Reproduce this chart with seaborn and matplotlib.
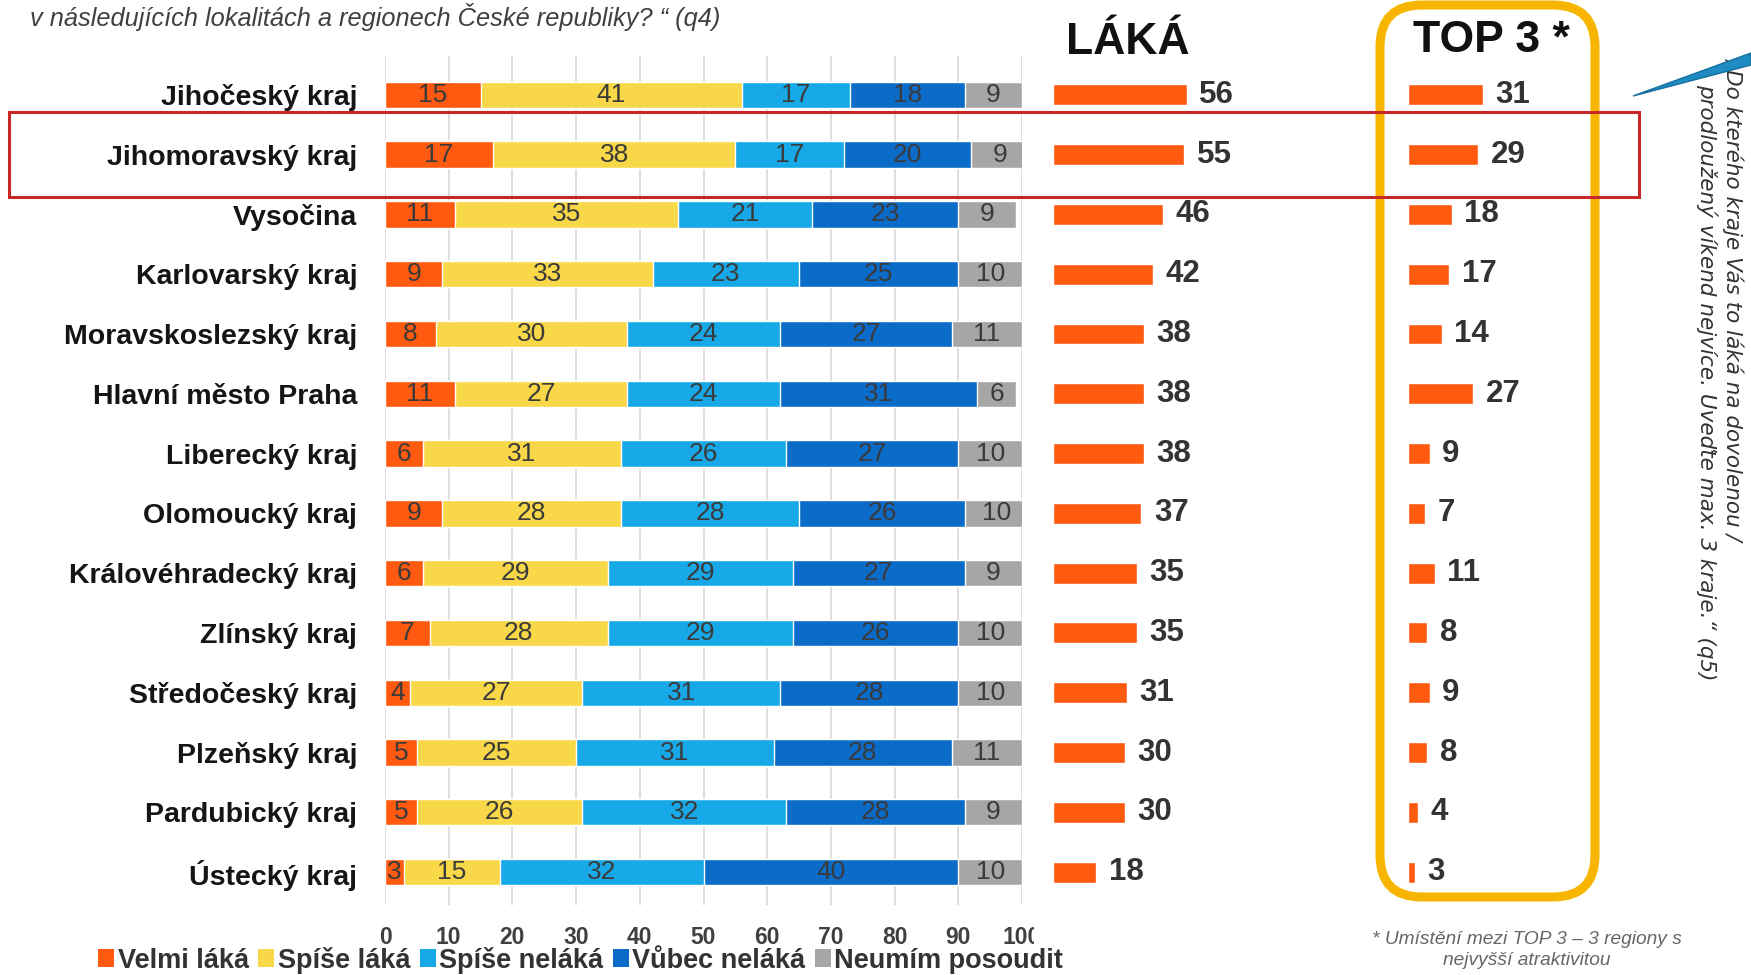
import numpy as np
import seaborn as sns
from matplotlib import pyplot as plt
from matplotlib.patches import Patch, FancyBboxPatch, Rectangle, Polygon

## Data
regions = ["Jihočeský kraj", "Jihomoravský kraj", "Vysočina", "Karlovarský kraj",
           "Moravskoslezský kraj", "Hlavní město Praha", "Liberecký kraj",
           "Olomoucký kraj", "Královéhradecký kraj", "Zlínský kraj",
           "Středočeský kraj", "Plzeňský kraj", "Pardubický kraj", "Ústecký kraj"]
velmi_laka = [15, 17, 11, 9, 8, 11, 6, 9, 6, 7, 4, 5, 5, 3]
spise_laka = [41, 38, 35, 33, 30, 27, 31, 28, 29, 28, 27, 25, 26, 15]
spise_nelaka = [17, 17, 21, 23, 24, 24, 26, 28, 29, 29, 31, 31, 32, 32]
vubec_nelaka = [18, 20, 23, 25, 27, 31, 27, 26, 27, 26, 28, 28, 28, 40]
neumim = [9, 9, 9, 10, 11, 6, 10, 10, 9, 10, 10, 11, 9, 10]
laka = [56, 55, 46, 42, 38, 38, 38, 37, 35, 35, 31, 30, 30, 18]
top3 = [31, 29, 18, 17, 14, 27, 9, 7, 11, 8, 9, 8, 4, 3]

legend_labels = ["Velmi láká", "Spíše láká", "Spíše neláká", "Vůbec neláká", "Neumím posoudit"]
x_ticks = [0, 10, 20, 30, 40, 50, 60, 70, 80, 90, 100]

COLOURS = ["#FF5A0F", "#F8D848", "#17A8E8", "#0B6BC8", "#A6A6A6"]
ORANGE = "#FF5A0F"

sns.set_theme(style="white")
plt.rcParams["font.family"] = ["Liberation Sans", "DejaVu Sans"]

W, H = 1751, 975
fig = plt.figure(figsize=(W / 100, H / 100), dpi=100)

def px_axes(x0, x1, y_top, y_bot):
    return fig.add_axes([x0 / W, 1 - y_bot / H, (x1 - x0) / W, (y_bot - y_top) / H])

ax = px_axes(385, 1022, 56, 905)
ax2 = px_axes(1053, 1053 + 70 * 2.39, 56, 905)
ax3 = px_axes(1408, 1408 + 70 * 2.42, 56, 905)

## Stacked bars (cumulative, drawn from the largest sum down)
segments = [velmi_laka, spise_laka, spise_nelaka, vubec_nelaka, neumim]
seg = np.array(segments)
cum = seg.cumsum(axis=0)
for k in range(len(segments) - 1, -1, -1):
    sns.barplot(x=cum[k], y=regions, color=COLOURS[k], orient="h", width=0.44,
                saturation=1, errorbar=None, ax=ax, zorder=2)

# value labels in the middle of each segment
for k in range(len(segments)):
    starts = cum[k] - seg[k]
    for i in range(len(regions)):
        ax.text(starts[i] + seg[k][i] / 2, i, str(seg[k][i]), ha="center", va="center",
                fontsize=19, color="#3a3a3a", zorder=3)

ax.set_xlim(0, 100)
ax.set_ylim(13.55, -0.65)
ax.set_xticks(x_ticks)
ax.set_xticklabels([str(t) for t in x_ticks], fontsize=16.5, fontweight="bold", color="#404040")
ax.grid(axis="x", color="#d4d4d4", lw=1.1, zorder=0)
ax.set_axisbelow(True)
ax.tick_params(axis="x", length=0, pad=15)
ax.tick_params(axis="y", length=0, pad=20)
for lbl in ax.get_yticklabels():
    lbl.set_fontsize(20.5)
    lbl.set_fontweight("bold")
    lbl.set_color("#151515")
for s in ax.spines.values():
    s.set_visible(False)
ax.set_xlabel("")
ax.set_ylabel("")

## LÁKÁ and TOP 3 panels
for a, vals in [(ax2, laka), (ax3, top3)]:
    sns.barplot(x=vals, y=regions, color=ORANGE, orient="h", width=0.35,
                saturation=1, errorbar=None, ax=a)
    a.bar_label(a.containers[0], padding=9, fontsize=22.5, fontweight="bold", color="#333333")
    a.set_xlim(0, 70)
    a.set_ylim(13.55, -0.65)
    a.set_xticks([])
    a.set_yticks([])
    a.set_xlabel("")
    a.set_ylabel("")
    a.patch.set_alpha(0)
    for s in a.spines.values():
        s.set_visible(False)

fig.text(1128 / W, 1 - 42 / H, "LÁKÁ", ha="center", va="center", fontsize=32,
         fontweight="bold", color="#111111")
fig.text(1413 / W, 1 - 40 / H, "TOP 3 *", ha="left", va="center", fontsize=32,
         fontweight="bold", color="#111111")

# gold rounded frame around TOP 3
frame = FancyBboxPatch((13.80, 0.78), 2.15, 8.92, boxstyle="round,pad=0,rounding_size=0.42",
                       transform=fig.dpi_scale_trans, fill=False, ec="#F7B500", lw=6.5, zorder=1)
fig.patches.append(frame)

# red highlight around Jihomoravský kraj
hl = Rectangle((0.09, 7.78), 16.30, 0.85, transform=fig.dpi_scale_trans, fill=False,
               ec="#C62828", lw=2.2, zorder=20)
fig.patches.append(hl)

# blue callout pointer
callout = Polygon([(16.33, 8.79), (17.51, 9.22), (17.51, 9.10)], closed=True,
                  transform=fig.dpi_scale_trans, fc="#1E8BC3", ec="#176f9e", lw=1, zorder=20)
fig.patches.append(callout)

## Texts
fig.text(30 / W, 1 - 17 / H, "v následujících lokalitách a regionech České republiky? “ (q4)",
         ha="left", va="center", fontsize=18.3, style="italic", color="#404040")

fig.text(1733 / W, 1 - 58 / H, "„Do kterého kraje Vás to láká na dovolenou /",
         rotation=270, ha="center", va="top", fontsize=15.5, style="italic",
         color="#333333", family="DejaVu Sans")
fig.text(1707 / W, 1 - 84 / H, "prodloužený víkend nejvíce. Uveďte max. 3 kraje.“ (q5)",
         rotation=270, ha="center", va="top", fontsize=15.5, style="italic",
         color="#333333", family="DejaVu Sans")

fig.text(1527 / W, 1 - 950 / H, "* Umístění mezi TOP 3 – 3 regiony s\nnejvyšší atraktivitou",
         ha="center", va="center", fontsize=13.8, style="italic", color="#666666",
         linespacing=1.3)

## Legend
handles = [Patch(facecolor=c, edgecolor="none") for c in COLOURS]
fig.legend(handles, legend_labels, loc="center left", bbox_to_anchor=(98 / W, 1 - 960 / H),
           ncol=5, frameon=False, prop={"size": 19.5, "weight": "bold"},
           handlelength=0.6, handleheight=0.6, handletextpad=0.12, columnspacing=0.35,
           borderpad=0, borderaxespad=0, labelcolor="#333333")

# the slide crops the legend and the last tick label
fig.patches.append(Rectangle((10.66, 0.0), 3.0, 0.29, transform=fig.dpi_scale_trans,
                             fc="white", ec="none", zorder=10))
fig.patches.append(Rectangle((10.34, 0.30), 0.16, 0.30, transform=fig.dpi_scale_trans,
                             fc="white", ec="none", zorder=10))

fig.savefig("out.png", dpi=100)
